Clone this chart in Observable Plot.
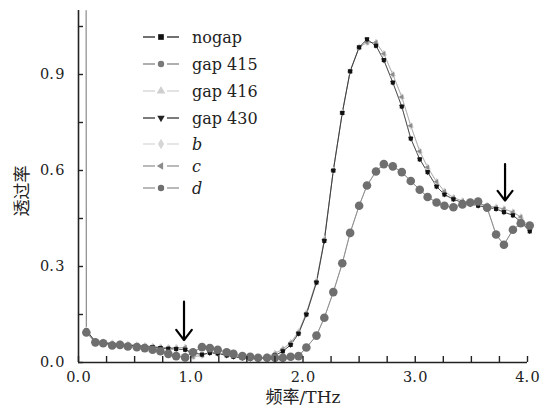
<!DOCTYPE html>
<html>
<head>
<meta charset="utf-8">
<script src="https://cdn.jsdelivr.net/npm/d3@7"></script>
<script src="https://cdn.jsdelivr.net/npm/@observablehq/plot@0.6"></script>
<style>
  html, body { margin: 0; padding: 0; background: #fff; }
  #wrap { position: relative; width: 549px; height: 412px; }
  #legend { position: absolute; left: 143px; top: 27px; font-family: "DejaVu Serif", serif; font-size: 16px; color: #222; }
  .row { position: absolute; left: 0; height: 20px; display: flex; align-items: center; white-space: nowrap; }
  .row span { margin-left: 13px; }
</style>
</head>
<body>
<div id="wrap"></div>
<script>
// ---- data ----
const freq = [0.07, 0.15, 0.22, 0.30, 0.37, 0.44, 0.52, 0.59, 0.66, 0.73, 0.80, 0.87, 0.95, 1.02, 1.10, 1.17, 1.24, 1.32, 1.38, 1.46, 1.53, 1.60, 1.68, 1.75, 1.82, 1.89, 1.96, 2.03, 2.12, 2.19, 2.27, 2.35, 2.42, 2.50, 2.57, 2.65, 2.72, 2.80, 2.88, 2.96, 3.04, 3.11, 3.19, 3.26, 3.34, 3.42, 3.49, 3.56, 3.64, 3.72, 3.79, 3.87, 3.94, 4.02];
const nogapT = [0.10, 0.065, 0.062, 0.058, 0.056, 0.054, 0.052, 0.050, 0.048, 0.045, 0.043, 0.042, 0.040, 0.030, 0.025, 0.030, 0.028, 0.022, 0.018, 0.014, 0.012, 0.012, 0.015, 0.022, 0.035, 0.055, 0.090, 0.150, 0.250, 0.380, 0.600, 0.780, 0.910, 0.985, 1.010, 0.990, 0.945, 0.875, 0.800, 0.700, 0.635, 0.595, 0.550, 0.525, 0.510, 0.500, 0.495, 0.490, 0.485, 0.480, 0.470, 0.460, 0.440, 0.410];
const altT = [0.10, 0.066, 0.063, 0.060, 0.058, 0.056, 0.054, 0.052, 0.050, 0.048, 0.046, 0.046, 0.047, 0.018, 0.022, 0.032, 0.030, 0.025, 0.020, 0.016, 0.014, 0.014, 0.018, 0.028, 0.042, 0.062, 0.095, 0.155, 0.255, 0.385, 0.600, 0.780, 0.910, 0.985, 1.000, 1.000, 0.965, 0.900, 0.830, 0.740, 0.660, 0.610, 0.565, 0.535, 0.515, 0.505, 0.500, 0.495, 0.490, 0.485, 0.480, 0.470, 0.455, 0.420];
const dT = [0.094, 0.063, 0.060, 0.053, 0.055, 0.050, 0.048, 0.045, 0.040, 0.035, 0.027, 0.020, 0.016, 0.032, 0.048, 0.045, 0.040, 0.032, 0.027, 0.020, 0.018, 0.015, 0.015, 0.015, 0.015, 0.018, 0.020, 0.047, 0.084, 0.140, 0.220, 0.310, 0.405, 0.490, 0.553, 0.597, 0.620, 0.613, 0.595, 0.567, 0.540, 0.517, 0.500, 0.490, 0.485, 0.494, 0.500, 0.503, 0.484, 0.400, 0.368, 0.415, 0.435, 0.428];
// the spike at the start of the low-frequency sweep (runs off the top)
const spikeFreq = [0.068, 0.07];
const spikeT = [1.10, 0.094];

const seriesNames = ["nogap", "gap 415", "gap 416", "gap 430", "b", "c", "d"];

const xMajorTicks = [0, 1, 2, 3, 4];
const xTickLabels = ["0.\u200A0", "1.\u200A0", "2.\u200A0", "3.\u200A0", "4.\u200A0"];
const xMinorTicks = [0, 0.25, 0.5, 0.75, 1, 1.25, 1.5, 1.75, 2, 2.25, 2.5, 2.75, 3, 3.25, 3.5, 3.75, 4];
const yMajorTicks = [0, 0.3, 0.6, 0.9];
const yTickLabels = ["0.\u200A0", "0.\u200A3", "0.\u200A6", "0.\u200A9"];
const yMinorTicks = [0, 0.15, 0.3, 0.45, 0.6, 0.75, 0.9, 1.05];

const arrowX = [0.94, 3.80];
const arrowTop = [0.19, 0.62];
const arrowBottom = [0.07, 0.506];

const xLabel = "频率/THz";
const yLabel = "透过率";

// ---- build tables ----
const table = (vals) => freq.map((f, i) => ({f, t: vals[i]}));
const nogap = table(nogapT), alt = table(altT), dser = table(dT);
const spike = spikeFreq.map((f, i) => ({f, t: spikeT[i]}));
const arrows = arrowX.map((x, i) => ({x, y1: arrowTop[i], y2: arrowBottom[i]}));

// custom symbols
const triDown = {draw(ctx, size) { const a = Math.sqrt(size) * 0.75; ctx.moveTo(0, a); ctx.lineTo(-a * 0.866, -a / 2); ctx.lineTo(a * 0.866, -a / 2); ctx.closePath(); }};
const triLeft = {draw(ctx, size) { const a = Math.sqrt(size) * 0.75; ctx.moveTo(-a, 0); ctx.lineTo(a / 2, -a * 0.866); ctx.lineTo(a / 2, a * 0.866); ctx.closePath(); }};

const styles = {
  "nogap":   {stroke: "#111", fill: "#111", symbol: "square", r: 2.3},
  "gap 415": {stroke: "#7a7a7a", fill: "#7a7a7a", symbol: "circle", r: 2.6},
  "gap 416": {stroke: "#cfcfcf", fill: "#cfcfcf", symbol: "triangle", r: 2.4},
  "gap 430": {stroke: "#222", fill: "#222", symbol: triDown, r: 2.3},
  "b":       {stroke: "#d6d6d6", fill: "#d6d6d6", symbol: "diamond", r: 2.4},
  "c":       {stroke: "#8c8c8c", fill: "#8c8c8c", symbol: triLeft, r: 2.3},
  "d":       {stroke: "#8a8a8a", fill: "#6f6f6f", symbol: "circle", r: 4.3}
};

const serif = "'DejaVu Serif', 'Noto Sans CJK SC', serif";

const lineMark = (data, s, w = 0.7, op = 0.8) => Plot.line(data, {x: "f", y: "t", stroke: s.stroke, strokeWidth: w, strokeOpacity: op});
const dotMark = (data, s) => Plot.dot(data, {x: "f", y: "t", fill: s.fill, stroke: "none", symbol: s.symbol, r: s.r});
const blank = () => "";

const chart = Plot.plot({
  width: 549, height: 412,
  marginLeft: 78, marginRight: 22, marginTop: 10, marginBottom: 50,
  x: {domain: [0, 4]},
  y: {domain: [0, 1.1]},
  style: {fontFamily: serif, fontSize: "14px", color: "#222", background: "white", overflow: "visible"},
  marks: [
    // series lines
    lineMark(spike, styles["d"], 1.2, 1),
    lineMark(dser, styles["gap 415"]),
    lineMark(alt, styles["gap 416"]),
    lineMark(alt, styles["b"]),
    lineMark(alt, styles["c"]),
    lineMark(nogap, styles["gap 430"], 0.6, 0.6),
    lineMark(nogap, styles["nogap"], 0.8, 0.75),
    lineMark(dser, styles["d"], 0.9, 1),
    // markers
    dotMark(alt, styles["gap 416"]),
    dotMark(alt, styles["b"]),
    dotMark(alt, styles["c"]),
    dotMark(nogap, styles["gap 430"]),
    dotMark(nogap, styles["nogap"]),
    dotMark(dser, styles["gap 415"]),
    dotMark(dser, styles["d"]),
    // axes
    Plot.ruleX([0], {stroke: "#222", strokeWidth: 1.6}),
    Plot.ruleY([0], {stroke: "#222", strokeWidth: 1.6}),
    Plot.axisX(xMinorTicks, {tickSize: -6, tickFormat: blank, stroke: "#222", strokeWidth: 1.4, label: null}),
    Plot.axisX(xMajorTicks, {tickSize: 0, tickPadding: 9, tickFormat: (d, i) => xTickLabels[i], fontSize: 14.5, fill: "#222", label: null}),
    Plot.axisY(yMinorTicks, {tickSize: -5, tickFormat: blank, stroke: "#222", strokeWidth: 1.4, label: null}),
    Plot.axisY(yMajorTicks, {tickSize: 0, tickPadding: 14, tickFormat: (d, i) => yTickLabels[i], fontSize: 14.5, fill: "#222", label: null}),
    // arrows
    Plot.arrow(arrows, {x: "x", y1: "y1", y2: "y2", stroke: "#000", strokeWidth: 2.2, headLength: 13, headAngle: 75}),
    // axis titles
    Plot.text([xLabel], {frameAnchor: "bottom", dy: 40, fontSize: 17, fill: "#222", fontFamily: serif}),
    Plot.text([yLabel], {frameAnchor: "left", dx: -56, dy: 30, rotate: -90, fontSize: 17, fill: "#222", fontFamily: "'Noto Sans CJK SC', sans-serif"})
  ]
});

const wrap = document.getElementById("wrap");
wrap.appendChild(chart);

// ---- legend overlay ----
const rowTops = [0, 27, 54, 81, 107, 129, 151];
const legend = d3.select(wrap).append("div").attr("id", "legend");
seriesNames.forEach((name, i) => {
  const s = styles[name];
  const row = legend.append("div").attr("class", "row").style("top", rowTops[i] + "px");
  const svg = row.append("svg").attr("width", 36).attr("height", 20);
  svg.append("line").attr("x1", 0).attr("x2", 12).attr("y1", 10).attr("y2", 10).attr("stroke", s.stroke).attr("stroke-width", 1.2);
  svg.append("line").attr("x1", 24).attr("x2", 36).attr("y1", 10).attr("y2", 10).attr("stroke", s.stroke).attr("stroke-width", 1.2);
  const sym = typeof s.symbol === "string"
    ? {square: d3.symbolSquare, circle: d3.symbolCircle, triangle: d3.symbolTriangle, diamond: d3.symbolDiamond}[s.symbol]
    : s.symbol;
  const rr = 3.2;
  svg.append("path").attr("transform", "translate(18,10)")
    .attr("d", d3.symbol(sym, Math.PI * rr * rr)())
    .attr("fill", s.fill);
  row.append("span").style("font-style", name.length === 1 ? "italic" : "normal").text(name);
});
</script>
</body>
</html>
